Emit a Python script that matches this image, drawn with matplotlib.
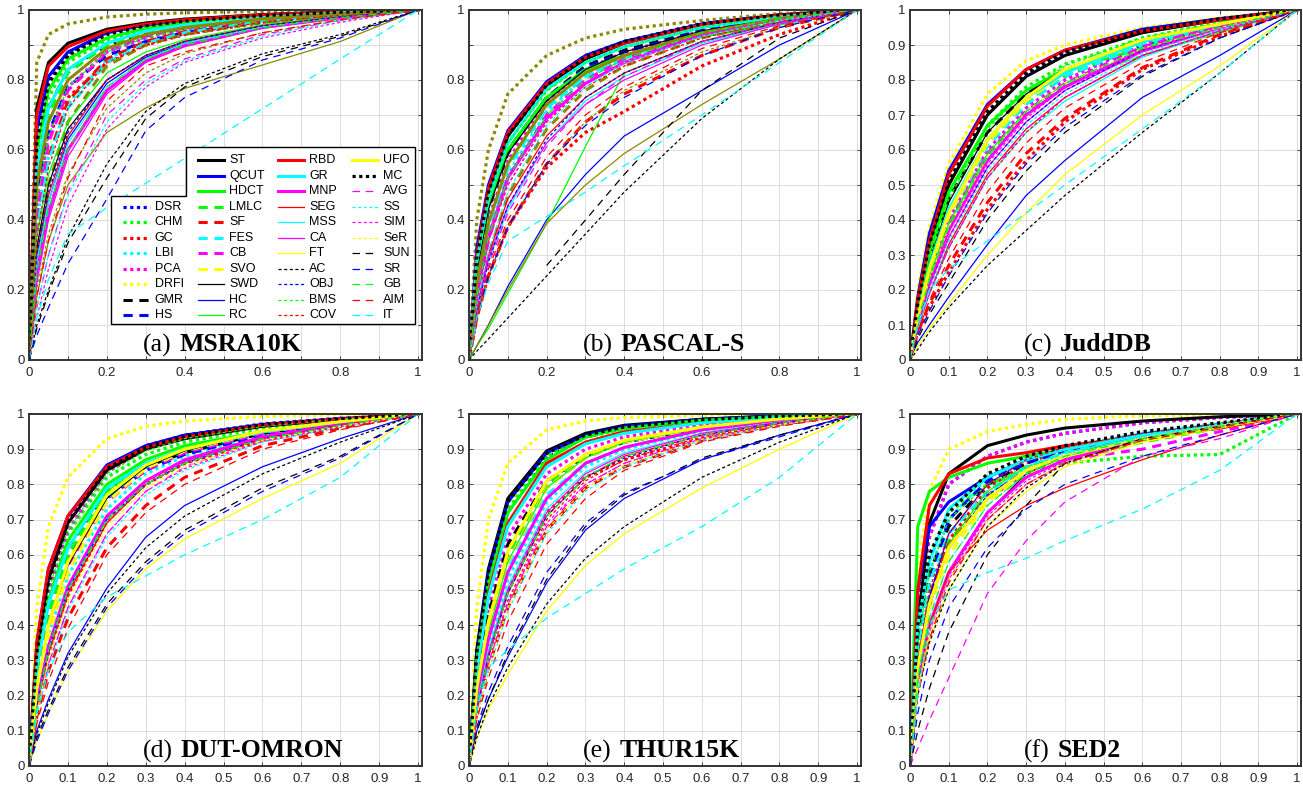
import matplotlib
matplotlib.use("Agg")
import matplotlib.pyplot as plt
from matplotlib.patches import Polygon

nan = float("nan")

# interior false-positive-rate samples; every ROC curve also runs through (0,0) and (1,1)
FPR = [0.02, 0.05, 0.1, 0.2, 0.3, 0.4, 0.6, 0.8]

METHODS = ["DSR", "CHM", "GC", "LBI", "PCA", "DRFI", "GMR", "HS",
           "ST", "QCUT", "HDCT", "LMLC", "SF", "FES", "CB", "SVO", "SWD", "HC", "RC",
           "RBD", "GR", "MNP", "SEG", "MSS", "CA", "FT", "AC", "OBJ", "BMS", "COV",
           "UFO", "MC", "AVG", "SS", "SIM", "SeR", "SUN", "SR", "GB", "AIM", "IT"]

COLOR = {"DSR": "b", "CHM": "g", "GC": "r", "LBI": "c", "PCA": "m", "DRFI": "y", "GMR": "k", "HS": "b",
         "ST": "k", "QCUT": "b", "HDCT": "g", "LMLC": "g", "SF": "r", "FES": "c", "CB": "m", "SVO": "y",
         "SWD": "k", "HC": "b", "RC": "g",
         "RBD": "r", "GR": "c", "MNP": "m", "SEG": "r", "MSS": "c", "CA": "m", "FT": "y", "AC": "k",
         "OBJ": "b", "BMS": "g", "COV": "r",
         "UFO": "y", "MC": "k", "AVG": "m", "SS": "c", "SIM": "m", "SeR": "y", "SUN": "k", "SR": "b",
         "GB": "g", "AIM": "r", "IT": "c"}

KIND = {"DSR": "tdot", "CHM": "tdot", "GC": "tdot", "LBI": "tdot", "PCA": "tdot", "DRFI": "tdot",
        "GMR": "tdash", "HS": "tdash",
        "ST": "tsolid", "QCUT": "tsolid", "HDCT": "tsolid", "LMLC": "tdash", "SF": "tdash", "FES": "tdash",
        "CB": "tdash", "SVO": "tdash", "SWD": "solid", "HC": "solid", "RC": "solid",
        "RBD": "tsolid", "GR": "tsolid", "MNP": "tsolid", "SEG": "solid", "MSS": "solid", "CA": "solid",
        "FT": "solid", "AC": "dot", "OBJ": "dot", "BMS": "dot", "COV": "dot",
        "UFO": "tsolid", "MC": "tdot", "AVG": "dash", "SS": "dot", "SIM": "dot", "SeR": "dot",
        "SUN": "dash", "SR": "dash", "GB": "dash", "AIM": "dash", "IT": "dash"}

LEGEND_COLUMNS = [["DSR", "CHM", "GC", "LBI", "PCA", "DRFI", "GMR", "HS"],
                  ["ST", "QCUT", "HDCT", "LMLC", "SF", "FES", "CB", "SVO", "SWD", "HC", "RC"],
                  ["RBD", "GR", "MNP", "SEG", "MSS", "CA", "FT", "AC", "OBJ", "BMS", "COV"],
                  ["UFO", "MC", "AVG", "SS", "SIM", "SeR", "SUN", "SR", "GB", "AIM", "IT"]]

# TPR at the FPR samples above, per dataset
MSRA10K = {
    "DSR": [0.64, 0.80, 0.875, 0.935, 0.958, 0.97, 0.985, 0.994],
    "CHM": [0.58, 0.75, 0.85, 0.915, 0.945, 0.96, 0.98, 0.992],
    "GC": [0.48, 0.64, 0.75, 0.85, 0.90, 0.93, 0.965, 0.985],
    "LBI": [0.40, 0.58, 0.73, 0.86, 0.91, 0.94, 0.97, 0.988],
    "PCA": [0.45, 0.64, 0.78, 0.88, 0.92, 0.945, 0.972, 0.99],
    "DRFI": [0.85, 0.93, 0.96, 0.98, 0.988, 0.992, 0.996, 0.998],
    "GMR": [0.55, 0.72, 0.83, 0.90, 0.93, 0.95, 0.975, 0.99],
    "HS": [0.48, 0.65, 0.78, 0.87, 0.91, 0.935, 0.965, 0.985],
    "ST": [0.72, 0.85, 0.905, 0.945, 0.963, 0.974, 0.987, 0.995],
    "QCUT": [0.66, 0.81, 0.88, 0.935, 0.958, 0.97, 0.985, 0.994],
    "HDCT": [0.60, 0.77, 0.86, 0.92, 0.948, 0.963, 0.982, 0.993],
    "LMLC": [0.52, 0.70, 0.82, 0.90, 0.935, 0.953, 0.976, 0.991],
    "SF": [0.40, 0.58, 0.74, 0.86, 0.91, 0.938, 0.97, 0.988],
    "FES": [0.38, 0.57, 0.72, 0.85, 0.905, 0.935, 0.968, 0.987],
    "CB": [0.42, 0.62, 0.77, 0.88, 0.925, 0.948, 0.974, 0.99],
    "SVO": [0.30, 0.50, 0.68, 0.84, 0.90, 0.93, 0.965, 0.985],
    "SWD": [0.32, 0.50, 0.66, 0.80, 0.87, 0.91, 0.955, 0.98],
    "HC": [0.28, 0.45, 0.63, 0.79, 0.865, 0.905, 0.95, 0.978],
    "RC": [0.35, 0.53, 0.68, 0.82, 0.88, 0.915, 0.958, 0.982],
    "RBD": [0.70, 0.84, 0.895, 0.94, 0.96, 0.972, 0.986, 0.995],
    "GR": [0.55, 0.72, 0.83, 0.905, 0.94, 0.957, 0.978, 0.992],
    "MNP": [0.25, 0.42, 0.60, 0.77, 0.855, 0.90, 0.95, 0.978],
    "SEG": [0.30, 0.47, 0.64, 0.80, 0.87, 0.91, 0.955, 0.98],
    "MSS": [0.28, 0.45, 0.62, 0.78, 0.86, 0.905, 0.952, 0.978],
    "CA": [0.22, 0.40, 0.58, 0.76, 0.85, 0.895, 0.948, 0.977],
    "FT": [0.18, 0.34, 0.50, 0.65, 0.72, 0.776, 0.843, 0.91],
    "AC": [0.10, 0.20, 0.35, 0.56, 0.71, 0.79, 0.875, 0.93],
    "OBJ": [0.30, 0.48, 0.65, 0.80, 0.87, 0.91, 0.955, 0.98],
    "BMS": [0.45, 0.64, 0.78, 0.88, 0.92, 0.945, 0.972, 0.99],
    "COV": [0.35, 0.55, 0.72, 0.85, 0.90, 0.93, 0.965, 0.985],
    "UFO": [0.50, 0.68, 0.80, 0.89, 0.93, 0.95, 0.975, 0.99],
    "MC": [0.62, 0.79, 0.87, 0.93, 0.955, 0.968, 0.984, 0.994],
    "AVG": [0.15, 0.30, 0.48, 0.70, 0.80, 0.86, 0.93, 0.97],
    "SS": [0.15, 0.30, 0.47, 0.68, 0.79, 0.855, 0.925, 0.97],
    "SIM": [0.12, 0.26, 0.44, 0.66, 0.78, 0.85, 0.92, 0.965],
    "SeR": [0.20, 0.36, 0.53, 0.72, 0.82, 0.875, 0.935, 0.972],
    "SUN": [0.09, 0.19, 0.335, 0.52, 0.69, 0.78, 0.867, 0.925],
    "SR": [0.07, 0.15, 0.275, 0.46, 0.655, 0.75, 0.857, 0.92],
    "GB": [0.25, 0.43, 0.60, 0.78, 0.86, 0.90, 0.95, 0.978],
    "AIM": [0.18, 0.34, 0.52, 0.74, 0.84, 0.88, 0.935, 0.972],
    "IT": [0.12, 0.23, 0.36, 0.435, 0.505, 0.576, 0.718, 0.86],
}

PASCAL_S = {
    "DSR": [0.30, 0.48, 0.645, 0.79, 0.87, 0.91, 0.962, 0.986],
    "CHM": [0.28, 0.46, 0.62, 0.77, 0.85, 0.895, 0.95, 0.982],
    "GC": [0.12, 0.24, 0.38, 0.55, 0.65, 0.71, 0.84, 0.93],
    "LBI": [0.20, 0.36, 0.53, 0.71, 0.81, 0.865, 0.935, 0.975],
    "PCA": [0.22, 0.40, 0.57, 0.74, 0.83, 0.88, 0.94, 0.978],
    "DRFI": [0.40, 0.60, 0.76, 0.87, 0.92, 0.945, 0.97, 0.99],
    "GMR": [0.25, 0.43, 0.59, 0.75, 0.84, 0.885, 0.945, 0.98],
    "HS": [0.26, 0.44, 0.60, 0.75, 0.835, 0.88, 0.94, 0.978],
    "ST": [0.28, 0.47, 0.64, 0.785, 0.86, 0.905, 0.958, 0.985],
    "QCUT": [0.32, 0.50, 0.655, 0.795, 0.87, 0.91, 0.96, 0.985],
    "HDCT": [0.26, 0.44, 0.60, 0.75, 0.83, 0.87, 0.925, 0.96],
    "LMLC": [0.22, 0.38, 0.55, 0.72, 0.81, 0.86, 0.93, 0.97],
    "SF": [0.12, 0.24, 0.38, 0.56, 0.68, 0.76, 0.87, 0.95],
    "FES": [0.22, 0.38, 0.55, 0.72, 0.81, 0.86, 0.93, 0.975],
    "CB": [0.18, 0.34, 0.52, 0.70, 0.80, 0.86, 0.93, 0.975],
    "SVO": [0.15, 0.30, 0.47, 0.66, 0.77, 0.84, 0.92, 0.97],
    "SWD": [0.25, 0.43, 0.59, 0.74, 0.83, 0.88, 0.94, 0.978],
    "HC": [0.04, 0.10, 0.21, 0.40, 0.53, 0.64, 0.77, 0.90],
    "RC": [0.04, 0.09, 0.19, 0.39, 0.61, 0.82, 0.91, 0.96],
    "RBD": [0.30, 0.49, 0.65, 0.79, 0.865, 0.905, 0.958, 0.985],
    "GR": [0.28, 0.46, 0.62, 0.775, 0.85, 0.895, 0.95, 0.98],
    "MNP": [0.18, 0.35, 0.52, 0.69, 0.79, 0.85, 0.93, 0.975],
    "SEG": [0.15, 0.30, 0.46, 0.64, 0.75, 0.82, 0.91, 0.965],
    "MSS": [0.14, 0.28, 0.43, 0.62, 0.74, 0.81, 0.905, 0.96],
    "CA": [0.15, 0.29, 0.44, 0.62, 0.73, 0.80, 0.90, 0.96],
    "FT": [0.04, 0.10, 0.20, 0.39, 0.50, 0.59, 0.73, 0.86],
    "AC": [0.025, 0.06, 0.12, 0.24, 0.36, 0.48, 0.69, 0.86],
    "OBJ": [0.14, 0.28, 0.44, 0.63, 0.75, 0.82, 0.91, 0.965],
    "BMS": [0.28, 0.46, 0.62, 0.77, 0.85, 0.895, 0.95, 0.982],
    "COV": [0.18, 0.34, 0.50, 0.68, 0.78, 0.84, 0.92, 0.97],
    "UFO": [0.22, 0.39, 0.56, 0.73, 0.82, 0.87, 0.935, 0.975],
    "MC": [0.29, 0.48, 0.64, 0.785, 0.865, 0.91, 0.96, 0.986],
    "AVG": [0.14, 0.27, 0.42, 0.61, 0.73, 0.81, 0.91, 0.965],
    "SS": [0.16, 0.31, 0.48, 0.67, 0.78, 0.85, 0.925, 0.97],
    "SIM": [0.18, 0.34, 0.50, 0.68, 0.79, 0.85, 0.93, 0.975],
    "SeR": [0.12, 0.24, 0.38, 0.56, 0.68, 0.77, 0.88, 0.95],
    "SUN": [nan, nan, nan, 0.27, 0.40, 0.53, 0.77, 0.92],
    "SR": [0.12, 0.24, 0.38, 0.56, 0.67, 0.75, 0.87, 0.95],
    "GB": [0.18, 0.35, 0.52, 0.70, 0.80, 0.86, 0.935, 0.975],
    "AIM": [0.13, 0.26, 0.40, 0.58, 0.70, 0.78, 0.89, 0.955],
    "IT": [0.12, 0.22, 0.34, 0.41, 0.48, 0.555, 0.70, 0.85],
}

JUDDDB = {
    "DSR": [0.16, 0.33, 0.51, 0.705, 0.815, 0.875, 0.94, 0.975],
    "CHM": [0.15, 0.30, 0.47, 0.67, 0.78, 0.845, 0.92, 0.965],
    "GC": [0.08, 0.15, 0.25, 0.43, 0.57, 0.68, 0.83, 0.925],
    "LBI": [0.11, 0.23, 0.38, 0.58, 0.70, 0.78, 0.89, 0.95],
    "PCA": [0.12, 0.25, 0.40, 0.60, 0.72, 0.80, 0.90, 0.955],
    "DRFI": [0.20, 0.38, 0.56, 0.76, 0.855, 0.90, 0.95, 0.978],
    "GMR": [0.14, 0.29, 0.46, 0.65, 0.76, 0.83, 0.91, 0.96],
    "HS": [0.12, 0.26, 0.42, 0.62, 0.74, 0.81, 0.90, 0.955],
    "ST": [0.16, 0.32, 0.50, 0.70, 0.81, 0.87, 0.935, 0.972],
    "QCUT": [0.18, 0.36, 0.54, 0.73, 0.83, 0.885, 0.945, 0.975],
    "HDCT": [0.15, 0.31, 0.48, 0.67, 0.77, 0.83, 0.89, 0.95],
    "LMLC": [0.12, 0.26, 0.42, 0.62, 0.74, 0.81, 0.905, 0.96],
    "SF": [0.08, 0.16, 0.27, 0.45, 0.59, 0.69, 0.835, 0.93],
    "FES": [0.12, 0.25, 0.41, 0.61, 0.73, 0.81, 0.90, 0.955],
    "CB": [0.11, 0.24, 0.39, 0.59, 0.71, 0.79, 0.895, 0.955],
    "SVO": [0.12, 0.25, 0.41, 0.62, 0.74, 0.82, 0.91, 0.96],
    "SWD": [0.13, 0.28, 0.45, 0.65, 0.76, 0.83, 0.915, 0.962],
    "HC": [0.05, 0.10, 0.18, 0.33, 0.47, 0.57, 0.75, 0.87],
    "RC": [0.11, 0.24, 0.39, 0.59, 0.71, 0.79, 0.87, 0.935],
    "RBD": [0.17, 0.34, 0.53, 0.725, 0.83, 0.885, 0.94, 0.972],
    "GR": [0.13, 0.27, 0.43, 0.63, 0.75, 0.82, 0.91, 0.96],
    "MNP": [0.10, 0.22, 0.37, 0.57, 0.70, 0.78, 0.885, 0.95],
    "SEG": [0.09, 0.19, 0.33, 0.53, 0.66, 0.75, 0.87, 0.94],
    "MSS": [0.09, 0.19, 0.32, 0.52, 0.65, 0.74, 0.865, 0.94],
    "CA": [0.10, 0.21, 0.35, 0.55, 0.68, 0.77, 0.88, 0.945],
    "FT": [0.04, 0.09, 0.16, 0.30, 0.42, 0.53, 0.70, 0.84],
    "AC": [0.03, 0.08, 0.15, 0.27, 0.37, 0.47, 0.65, 0.82],
    "OBJ": [0.10, 0.21, 0.35, 0.55, 0.68, 0.77, 0.885, 0.95],
    "BMS": [0.14, 0.29, 0.46, 0.66, 0.77, 0.84, 0.92, 0.965],
    "COV": [0.09, 0.19, 0.32, 0.52, 0.65, 0.75, 0.87, 0.94],
    "UFO": [0.12, 0.26, 0.42, 0.63, 0.75, 0.83, 0.915, 0.96],
    "MC": [0.16, 0.33, 0.51, 0.71, 0.82, 0.88, 0.94, 0.975],
    "AVG": [0.09, 0.19, 0.32, 0.52, 0.66, 0.75, 0.87, 0.94],
    "SS": [0.09, 0.20, 0.34, 0.54, 0.67, 0.76, 0.875, 0.945],
    "SIM": [0.10, 0.21, 0.35, 0.56, 0.69, 0.78, 0.885, 0.95],
    "SeR": [0.11, 0.23, 0.38, 0.58, 0.71, 0.79, 0.89, 0.95],
    "SUN": [0.06, 0.13, 0.22, 0.40, 0.54, 0.65, 0.81, 0.92],
    "SR": [0.07, 0.14, 0.24, 0.42, 0.56, 0.665, 0.815, 0.92],
    "GB": [0.11, 0.23, 0.38, 0.58, 0.71, 0.79, 0.89, 0.95],
    "AIM": [0.08, 0.17, 0.29, 0.48, 0.62, 0.72, 0.85, 0.935],
    "IT": [0.10, 0.20, 0.26, 0.34, 0.42, 0.50, 0.66, 0.82],
}

DUT_OMRON = {
    "DSR": [0.33, 0.54, 0.70, 0.85, 0.91, 0.94, 0.972, 0.988],
    "CHM": [0.30, 0.49, 0.66, 0.82, 0.885, 0.92, 0.96, 0.982],
    "GC": [0.18, 0.33, 0.49, 0.70, 0.80, 0.86, 0.925, 0.965],
    "LBI": [0.20, 0.37, 0.54, 0.73, 0.83, 0.88, 0.94, 0.974],
    "PCA": [0.30, 0.50, 0.67, 0.835, 0.90, 0.935, 0.97, 0.987],
    "DRFI": [0.45, 0.68, 0.82, 0.93, 0.965, 0.98, 0.993, 0.998],
    "GMR": [0.28, 0.46, 0.62, 0.78, 0.85, 0.89, 0.945, 0.975],
    "HS": [0.25, 0.43, 0.59, 0.76, 0.84, 0.885, 0.94, 0.974],
    "ST": [0.33, 0.53, 0.69, 0.84, 0.90, 0.93, 0.965, 0.985],
    "QCUT": [0.35, 0.56, 0.71, 0.855, 0.91, 0.94, 0.97, 0.985],
    "HDCT": [0.28, 0.47, 0.64, 0.80, 0.87, 0.91, 0.95, 0.975],
    "LMLC": [0.25, 0.43, 0.60, 0.78, 0.855, 0.90, 0.95, 0.978],
    "SF": [0.14, 0.27, 0.42, 0.62, 0.74, 0.82, 0.91, 0.96],
    "FES": [0.22, 0.40, 0.57, 0.76, 0.85, 0.895, 0.948, 0.977],
    "CB": [0.22, 0.40, 0.57, 0.75, 0.84, 0.89, 0.945, 0.976],
    "SVO": [0.20, 0.37, 0.55, 0.75, 0.845, 0.895, 0.95, 0.978],
    "SWD": [0.22, 0.40, 0.57, 0.76, 0.85, 0.895, 0.95, 0.978],
    "HC": [0.10, 0.19, 0.32, 0.505, 0.65, 0.74, 0.85, 0.93],
    "RC": [0.22, 0.40, 0.58, 0.78, 0.86, 0.90, 0.95, 0.978],
    "RBD": [0.35, 0.56, 0.71, 0.85, 0.905, 0.935, 0.968, 0.985],
    "GR": [0.28, 0.46, 0.62, 0.79, 0.86, 0.90, 0.95, 0.978],
    "MNP": [0.18, 0.34, 0.51, 0.71, 0.81, 0.87, 0.935, 0.97],
    "SEG": [0.17, 0.32, 0.49, 0.69, 0.80, 0.86, 0.93, 0.968],
    "MSS": [0.17, 0.33, 0.50, 0.70, 0.80, 0.86, 0.93, 0.968],
    "CA": [0.18, 0.34, 0.51, 0.71, 0.81, 0.865, 0.932, 0.97],
    "FT": [0.07, 0.15, 0.27, 0.44, 0.56, 0.645, 0.76, 0.86],
    "AC": [0.09, 0.18, 0.31, 0.49, 0.62, 0.71, 0.83, 0.92],
    "OBJ": [0.17, 0.33, 0.50, 0.70, 0.80, 0.86, 0.93, 0.968],
    "BMS": [0.30, 0.50, 0.67, 0.83, 0.895, 0.93, 0.965, 0.985],
    "COV": [0.16, 0.31, 0.48, 0.69, 0.80, 0.86, 0.93, 0.968],
    "UFO": [0.22, 0.40, 0.58, 0.77, 0.855, 0.90, 0.952, 0.978],
    "MC": [0.32, 0.52, 0.69, 0.845, 0.905, 0.937, 0.97, 0.987],
    "AVG": [0.15, 0.29, 0.45, 0.66, 0.78, 0.85, 0.925, 0.965],
    "SS": [0.14, 0.28, 0.44, 0.65, 0.77, 0.84, 0.92, 0.963],
    "SIM": [0.15, 0.29, 0.45, 0.66, 0.78, 0.845, 0.922, 0.964],
    "SeR": [0.15, 0.30, 0.47, 0.68, 0.79, 0.85, 0.925, 0.965],
    "SUN": [0.08, 0.16, 0.28, 0.46, 0.58, 0.67, 0.79, 0.88],
    "SR": [0.07, 0.15, 0.27, 0.45, 0.57, 0.66, 0.78, 0.875],
    "GB": [0.17, 0.33, 0.50, 0.70, 0.80, 0.86, 0.93, 0.968],
    "AIM": [0.12, 0.24, 0.39, 0.60, 0.72, 0.80, 0.90, 0.955],
    "IT": [0.15, 0.27, 0.38, 0.48, 0.54, 0.60, 0.70, 0.82],
}

THUR15K = {
    "DSR": [0.30, 0.52, 0.72, 0.875, 0.935, 0.96, 0.982, 0.993],
    "CHM": [0.31, 0.53, 0.73, 0.88, 0.94, 0.965, 0.985, 0.994],
    "GC": [0.17, 0.32, 0.50, 0.72, 0.82, 0.87, 0.93, 0.97],
    "LBI": [0.18, 0.34, 0.53, 0.75, 0.85, 0.90, 0.952, 0.982],
    "PCA": [0.25, 0.45, 0.65, 0.83, 0.90, 0.935, 0.97, 0.988],
    "DRFI": [0.45, 0.70, 0.86, 0.955, 0.98, 0.99, 0.996, 0.999],
    "GMR": [0.24, 0.43, 0.63, 0.81, 0.88, 0.92, 0.96, 0.985],
    "HS": [0.22, 0.40, 0.60, 0.80, 0.88, 0.92, 0.96, 0.985],
    "ST": [0.33, 0.56, 0.76, 0.895, 0.945, 0.968, 0.985, 0.995],
    "QCUT": [0.32, 0.55, 0.75, 0.89, 0.94, 0.965, 0.985, 0.995],
    "HDCT": [0.30, 0.52, 0.72, 0.87, 0.935, 0.96, 0.982, 0.993],
    "LMLC": [0.22, 0.40, 0.60, 0.80, 0.88, 0.92, 0.96, 0.985],
    "SF": [0.15, 0.28, 0.45, 0.67, 0.79, 0.85, 0.925, 0.97],
    "FES": [0.20, 0.37, 0.56, 0.77, 0.86, 0.905, 0.955, 0.983],
    "CB": [0.20, 0.38, 0.58, 0.79, 0.875, 0.92, 0.96, 0.985],
    "SVO": [0.20, 0.38, 0.58, 0.79, 0.875, 0.92, 0.96, 0.985],
    "SWD": [0.22, 0.41, 0.61, 0.81, 0.885, 0.925, 0.965, 0.986],
    "HC": [0.10, 0.19, 0.31, 0.52, 0.67, 0.76, 0.87, 0.94],
    "RC": [0.20, 0.38, 0.58, 0.79, 0.875, 0.92, 0.96, 0.985],
    "RBD": [0.28, 0.49, 0.69, 0.86, 0.92, 0.95, 0.975, 0.99],
    "GR": [0.27, 0.48, 0.68, 0.85, 0.915, 0.945, 0.975, 0.99],
    "MNP": [0.19, 0.36, 0.55, 0.76, 0.86, 0.905, 0.955, 0.983],
    "SEG": [0.16, 0.31, 0.49, 0.71, 0.82, 0.88, 0.94, 0.975],
    "MSS": [0.17, 0.33, 0.51, 0.73, 0.835, 0.89, 0.945, 0.978],
    "CA": [0.16, 0.32, 0.50, 0.72, 0.83, 0.885, 0.945, 0.977],
    "FT": [0.08, 0.16, 0.26, 0.44, 0.57, 0.66, 0.79, 0.90],
    "AC": [0.08, 0.17, 0.28, 0.46, 0.59, 0.68, 0.82, 0.92],
    "OBJ": [0.16, 0.31, 0.49, 0.71, 0.82, 0.875, 0.94, 0.975],
    "BMS": [0.30, 0.52, 0.72, 0.87, 0.93, 0.955, 0.98, 0.992],
    "COV": [0.15, 0.29, 0.47, 0.70, 0.81, 0.87, 0.935, 0.972],
    "UFO": [0.22, 0.41, 0.61, 0.81, 0.885, 0.925, 0.963, 0.986],
    "MC": [0.32, 0.55, 0.75, 0.888, 0.94, 0.963, 0.984, 0.994],
    "AVG": [0.15, 0.29, 0.46, 0.68, 0.80, 0.86, 0.93, 0.97],
    "SS": [0.14, 0.27, 0.44, 0.66, 0.78, 0.85, 0.925, 0.968],
    "SIM": [0.15, 0.29, 0.46, 0.69, 0.80, 0.86, 0.93, 0.97],
    "SeR": [0.14, 0.28, 0.45, 0.67, 0.79, 0.855, 0.928, 0.97],
    "SUN": [0.10, 0.19, 0.32, 0.53, 0.68, 0.77, 0.875, 0.94],
    "SR": [0.11, 0.21, 0.34, 0.55, 0.69, 0.775, 0.87, 0.935],
    "GB": [0.16, 0.31, 0.49, 0.71, 0.82, 0.88, 0.94, 0.975],
    "AIM": [0.13, 0.25, 0.41, 0.63, 0.76, 0.84, 0.92, 0.965],
    "IT": [0.16, 0.28, 0.33, 0.42, 0.49, 0.56, 0.68, 0.82],
}

SED2 = {
    "DSR": [0.45, 0.65, 0.80, 0.88, 0.92, 0.945, 0.975, 0.99],
    "CHM": [0.42, 0.60, 0.72, 0.80, 0.84, 0.86, 0.88, 0.885],
    "GC": [0.30, 0.48, 0.64, 0.79, 0.86, 0.90, 0.935, 0.965],
    "LBI": [0.35, 0.55, 0.70, 0.82, 0.87, 0.905, 0.945, 0.972],
    "PCA": [0.45, 0.65, 0.80, 0.88, 0.92, 0.945, 0.975, 0.99],
    "DRFI": [0.55, 0.78, 0.90, 0.95, 0.97, 0.985, 0.995, 0.998],
    "GMR": [0.35, 0.55, 0.68, 0.80, 0.86, 0.90, 0.94, 0.97],
    "HS": [0.30, 0.52, 0.70, 0.81, 0.86, 0.895, 0.935, 0.965],
    "ST": [0.40, 0.69, 0.83, 0.91, 0.94, 0.96, 0.98, 0.992],
    "QCUT": [0.50, 0.68, 0.75, 0.82, 0.87, 0.90, 0.94, 0.97],
    "HDCT": [0.68, 0.78, 0.82, 0.86, 0.88, 0.90, 0.94, 0.97],
    "LMLC": [0.30, 0.48, 0.64, 0.76, 0.83, 0.87, 0.92, 0.96],
    "SF": [0.30, 0.48, 0.63, 0.77, 0.84, 0.88, 0.93, 0.965],
    "FES": [0.32, 0.52, 0.66, 0.78, 0.85, 0.89, 0.935, 0.965],
    "CB": [0.28, 0.45, 0.62, 0.76, 0.83, 0.87, 0.90, 0.95],
    "SVO": [0.28, 0.45, 0.60, 0.75, 0.83, 0.875, 0.925, 0.96],
    "SWD": [0.25, 0.40, 0.55, 0.72, 0.83, 0.88, 0.94, 0.972],
    "HC": [0.30, 0.48, 0.66, 0.80, 0.87, 0.905, 0.945, 0.972],
    "RC": [0.28, 0.45, 0.63, 0.78, 0.85, 0.89, 0.935, 0.968],
    "RBD": [0.50, 0.74, 0.83, 0.875, 0.89, 0.91, 0.935, 0.96],
    "GR": [0.40, 0.58, 0.73, 0.82, 0.87, 0.90, 0.94, 0.97],
    "MNP": [0.25, 0.40, 0.55, 0.72, 0.82, 0.87, 0.93, 0.965],
    "SEG": [0.22, 0.40, 0.55, 0.67, 0.74, 0.79, 0.87, 0.94],
    "MSS": [0.28, 0.46, 0.62, 0.77, 0.85, 0.89, 0.935, 0.968],
    "CA": [0.22, 0.38, 0.53, 0.70, 0.80, 0.86, 0.925, 0.962],
    "FT": [0.22, 0.36, 0.50, 0.68, 0.78, 0.85, 0.92, 0.96],
    "AC": [0.20, 0.35, 0.50, 0.68, 0.79, 0.86, 0.93, 0.965],
    "OBJ": [0.28, 0.45, 0.62, 0.77, 0.84, 0.88, 0.93, 0.965],
    "BMS": [0.35, 0.55, 0.70, 0.80, 0.85, 0.88, 0.925, 0.96],
    "COV": [0.30, 0.50, 0.66, 0.80, 0.87, 0.905, 0.945, 0.972],
    "UFO": [0.28, 0.46, 0.62, 0.76, 0.84, 0.88, 0.93, 0.965],
    "MC": [0.40, 0.60, 0.72, 0.83, 0.88, 0.91, 0.95, 0.975],
    "AVG": [0.05, 0.13, 0.25, 0.49, 0.64, 0.75, 0.88, 0.93],
    "SS": [0.25, 0.42, 0.58, 0.74, 0.83, 0.88, 0.935, 0.968],
    "SIM": [0.22, 0.38, 0.54, 0.71, 0.81, 0.865, 0.93, 0.965],
    "SeR": [0.22, 0.38, 0.53, 0.70, 0.80, 0.86, 0.925, 0.962],
    "SUN": [0.10, 0.22, 0.38, 0.60, 0.74, 0.86, 0.93, 0.965],
    "SR": [0.15, 0.30, 0.45, 0.62, 0.73, 0.80, 0.88, 0.94],
    "GB": [0.25, 0.42, 0.58, 0.74, 0.83, 0.88, 0.93, 0.965],
    "AIM": [0.20, 0.36, 0.52, 0.70, 0.80, 0.86, 0.925, 0.962],
    "IT": [0.20, 0.40, 0.50, 0.55, 0.59, 0.64, 0.73, 0.84],
}

PANELS = [("(a)", "MSRA10K", MSRA10K), ("(b)", "PASCAL-S", PASCAL_S), ("(c)", "JuddDB", JUDDDB),
          ("(d)", "DUT-OMRON", DUT_OMRON), ("(e)", "THUR15K", THUR15K), ("(f)", "SED2", SED2)]

# ---------------- styling ----------------
BASE = {"b": "#0000ff", "g": "#00ff00", "r": "#ff0000", "c": "#00ffff",
        "m": "#ff00ff", "y": "#ffff00", "k": "#000000"}
OLIVE = "#8a8a00"
STYLE = {"tsolid": dict(ls="-", lw=2.2),
         "solid": dict(ls="-", lw=0.9),
         "tdot": dict(ls=(0, (1.0, 1.1)), lw=2.3),
         "tdash": dict(ls=(0, (3.0, 2.2)), lw=2.2),
         "dot": dict(ls=(0, (2.5, 2.0)), lw=0.9),
         "dash": dict(ls=(0, (6.0, 4.5)), lw=0.9)}

plt.rcParams["font.family"] = ["Liberation Sans", "DejaVu Sans"]

W, H = 1303, 789
fig = plt.figure(figsize=(W / 100, H / 100), dpi=100)
fig.patch.set_facecolor("white")

BOXES_PX = [(29, 10, 422, 360), (469, 10, 861, 360), (910, 10, 1301, 360),
            (29, 414, 422, 766), (469, 414, 861, 766), (910, 414, 1301, 766)]

axes = []
for i, (l, t, r, b) in enumerate(BOXES_PX):
    ax = fig.add_axes([l / W, 1 - b / H, (r - l) / W, (b - t) / H])
    axes.append(ax)

label_texts = []
for i, (ax, (tag, name, data)) in enumerate(zip(axes, PANELS)):
    olive = i < 2
    for m in METHODS:
        col = BASE[COLOR[m]]
        if olive and COLOR[m] == "y":
            col = OLIVE
        st = STYLE[KIND[m]]
        xs = [0.0] + FPR + [1.0]
        ys = [0.0] + data[m] + [1.0]
        ax.plot(xs, ys, color=col, linestyle=st["ls"], linewidth=st["lw"], zorder=3)

    ax.set_xlim(0, 1.01)
    ax.set_ylim(0, 1.0)
    ticks = [k / 10 for k in range(11)]
    ax.set_xticks(ticks)
    ax.set_yticks(ticks)
    if i < 2:
        labs = ["0", "", "0.2", "", "0.4", "", "0.6", "", "0.8", "", "1"]
    else:
        labs = ["0", "0.1", "0.2", "0.3", "0.4", "0.5", "0.6", "0.7", "0.8", "0.9", "1"]
    ax.set_xticklabels(labs)
    ax.set_yticklabels(labs)
    ax.set_axisbelow(True)
    ax.grid(True, color="#dcdcdc", linewidth=0.7)
    for sp in ax.spines.values():
        sp.set_linewidth(1.4)
        sp.set_color("#333333")
        sp.set_zorder(20)
    ax.tick_params(axis="both", direction="in", length=3, width=0.6, colors="#262626",
                   labelsize=9.5, top=True, right=True)
    ax.tick_params(axis="x", pad=5)
    ax.tick_params(axis="y", pad=3)

    t1 = ax.text(0.29, 0.025, tag, transform=ax.transAxes, ha="left", va="baseline",
                 fontsize=18.5, family=["Liberation Serif", "DejaVu Serif"], zorder=25)
    label_texts.append((ax, t1, name))

# ---------------- legend in panel (a) ----------------
axA = axes[0]
frame = Polygon([(0.399, 0.609), (0.982, 0.609), (0.982, 0.103), (0.209, 0.103),
                 (0.209, 0.468), (0.399, 0.468)], closed=True, transform=axA.transAxes,
                facecolor="white", edgecolor="black", linewidth=1.0, zorder=10)
axA.add_patch(frame)
col_x = [0.240, 0.429, 0.633, 0.821]
line_len = 0.068
text_dx = 0.080
for c, names in enumerate(LEGEND_COLUMNS):
    start = 3 if c == 0 else 0
    for k, m in enumerate(names):
        r = start + k
        y = 0.571 - 0.0443 * r
        st = STYLE[KIND[m]]
        axA.plot([col_x[c], col_x[c] + line_len], [y, y], transform=axA.transAxes,
                 color=BASE[COLOR[m]], linestyle=st["ls"], linewidth=st["lw"], zorder=11,
                 clip_on=False)
        axA.text(col_x[c] + text_dx, y, m, transform=axA.transAxes, ha="left", va="center",
                 fontsize=9, color="black", zorder=12)

# ---------------- bold dataset names after the tags ----------------
fig.canvas.draw()
renderer = fig.canvas.get_renderer()
for ax, t1, name in label_texts:
    bb = t1.get_window_extent(renderer)
    xa = ax.transAxes.inverted().transform((bb.x1 + 8, 0))[0]
    ax.text(xa, 0.025, name, transform=ax.transAxes, ha="left", va="baseline",
            fontsize=18.5, fontweight="bold", family=["Liberation Serif", "DejaVu Serif"], zorder=25)

fig.savefig("out.png", dpi=100, facecolor="white")
